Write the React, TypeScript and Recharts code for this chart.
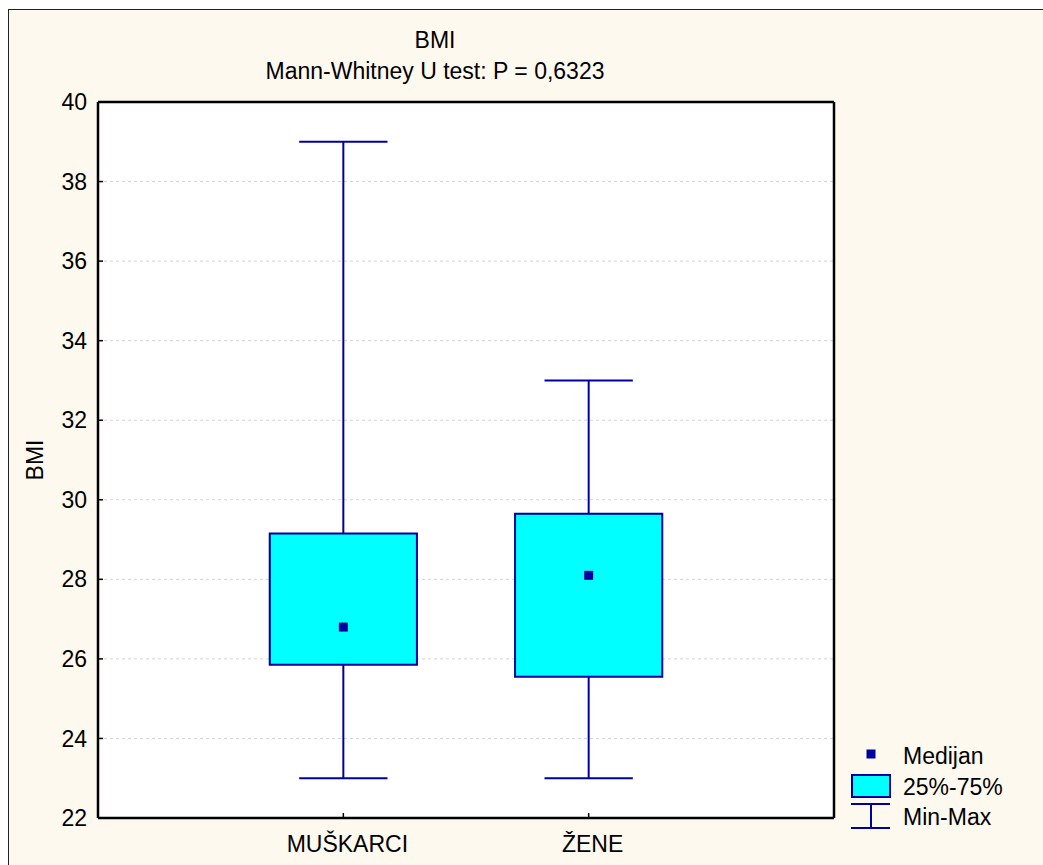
import { ComposedChart, XAxis, YAxis, CartesianGrid, ReferenceArea, ReferenceLine, Scatter } from "recharts";

// ============[ DATA ]============
const groups = ["MUŠKARCI", "ŽENE"];
const groupPos = [1, 2];
const minValues = [23, 23];
const q1Values = [25.85, 25.55];
const medianValues = [26.8, 28.1];
const q3Values = [29.15, 29.65];
const maxValues = [39, 33];
const yTicks = [22, 24, 26, 28, 30, 32, 34, 36, 38, 40];
const legendLabels = ["Medijan", "25%-75%", "Min-Max"];

const NAVY = "#0000a0";
const CYAN = "#00ffff";
const CREAM = "#fdf9ee";
const FONT = "'Liberation Sans', Arial, sans-serif";
const FS = 23;
const BOX_HALF = 0.3;
const CAP_HALF = 0.18;

const medianData = groups.map((g, i) => ({ name: g, x: groupPos[i], y: medianValues[i] }));

export default function App() {
  return (
    <div style={{ position: "fixed", left: 0, top: 0, width: 1043, height: 865, background: "#fff", overflow: "hidden", fontFamily: FONT }}>
      <div
        style={{
          position: "absolute",
          left: 8,
          top: 9,
          width: 1100,
          height: 900,
          background: CREAM,
          border: "1.5px solid #222",
        }}
      />

      {/* title */}
      <div style={{ position: "absolute", left: 0, top: 25, width: 870, textAlign: "center", fontSize: FS, lineHeight: "31px", color: "#000" }}>
        <div>BMI</div>
        <div>Mann-Whitney U test: P = 0,6323</div>
      </div>

      <div style={{ position: "absolute", left: 0, top: 0 }}>
        <ComposedChart width={1043} height={865} margin={{ top: 101, right: 208, bottom: 7, left: 38 }}>
          <CartesianGrid vertical={false} fill="#fff" stroke="#d4d4d4" strokeDasharray="3 3" />
          <XAxis
            type="number"
            dataKey="x"
            domain={[0, 3]}
            ticks={groupPos}
            tickFormatter={(v: number) => groups[groupPos.indexOf(v)] ?? ""}
            height={40}
            tickSize={-5}
            tickMargin={23}
            axisLine={{ stroke: "#000", strokeWidth: 2.5 }}
            tickLine={{ stroke: "#000", strokeWidth: 1.5 }}
            tick={{ fill: "#000", fontSize: FS, fontFamily: FONT, dx: 4 }}
            allowDataOverflow
          />
          <XAxis
            xAxisId="top"
            orientation="top"
            type="number"
            domain={[0, 3]}
            ticks={groupPos}
            tickFormatter={() => ""}
            height={1}
            tickSize={-5}
            axisLine={{ stroke: "#000", strokeWidth: 2.5 }}
            tickLine={{ stroke: "#000", strokeWidth: 1.5 }}
          />
          <YAxis
            type="number"
            domain={[22, 40]}
            ticks={yTicks}
            width={60}
            tickSize={-5}
            tickMargin={16}
            axisLine={{ stroke: "#000", strokeWidth: 2.5 }}
            tickLine={{ stroke: "#000", strokeWidth: 1.5 }}
            tick={{ fill: "#000", fontSize: FS, fontFamily: FONT }}
            label={{
              position: "left",
              content: ({ viewBox }: any) => {
                const cx = viewBox.x - 3;
                const cy = viewBox.y + viewBox.height / 2;
                return (
                  <text x={cx} y={cy} transform={`rotate(-90 ${cx} ${cy})`} textAnchor="middle" dominantBaseline="central" fontSize={FS} fontFamily={FONT} fill="#000">
                    BMI
                  </text>
                );
              },
            }}
          />
          <YAxis
            yAxisId="right"
            orientation="right"
            type="number"
            domain={[22, 40]}
            ticks={yTicks}
            tickFormatter={() => ""}
            width={1}
            tickSize={-5}
            axisLine={{ stroke: "#000", strokeWidth: 2.5 }}
            tickLine={{ stroke: "#000", strokeWidth: 1.5 }}
          />

          {/* whiskers */}
          {groupPos.map((x, i) => (
            <ReferenceLine key={`wu${i}`} segment={[{ x, y: q3Values[i] }, { x, y: maxValues[i] }]} stroke={NAVY} strokeWidth={2} />
          ))}
          {groupPos.map((x, i) => (
            <ReferenceLine key={`wl${i}`} segment={[{ x, y: minValues[i] }, { x, y: q1Values[i] }]} stroke={NAVY} strokeWidth={2} />
          ))}
          {groupPos.map((x, i) => (
            <ReferenceLine key={`cu${i}`} segment={[{ x: x - CAP_HALF, y: maxValues[i] }, { x: x + CAP_HALF, y: maxValues[i] }]} stroke={NAVY} strokeWidth={2} />
          ))}
          {groupPos.map((x, i) => (
            <ReferenceLine key={`cl${i}`} segment={[{ x: x - CAP_HALF, y: minValues[i] }, { x: x + CAP_HALF, y: minValues[i] }]} stroke={NAVY} strokeWidth={2} />
          ))}

          {/* boxes */}
          {groupPos.map((x, i) => (
            <ReferenceArea
              key={`box${i}`}
              x1={x - BOX_HALF}
              x2={x + BOX_HALF}
              y1={q1Values[i]}
              y2={q3Values[i]}
              fill={CYAN}
              fillOpacity={1}
              stroke={NAVY}
              strokeWidth={2}
            />
          ))}

          <Scatter
            data={medianData}
            dataKey="y"
            isAnimationActive={false}
            shape={(p: any) => <rect x={p.cx - 4.5} y={p.cy - 4.5} width={9} height={9} fill={NAVY} />}
          />
        </ComposedChart>
      </div>

      {/* legend */}
      <svg style={{ position: "absolute", left: 840, top: 740 }} width={200} height={100}>
        <rect x={26.5} y={9.5} width={9} height={9} fill={NAVY} />
        <rect x={12} y={35} width={38} height={22} fill={CYAN} stroke={NAVY} strokeWidth={2} />
        <line x1={11} x2={50} y1={64} y2={64} stroke={NAVY} strokeWidth={2} />
        <line x1={11} x2={50} y1={88} y2={88} stroke={NAVY} strokeWidth={2} />
        <line x1={31} x2={31} y1={64} y2={88} stroke={NAVY} strokeWidth={2} />
        {legendLabels.map((t, i) => (
          <text key={t} x={63} y={24 + i * 30.5} fontSize={FS} fontFamily={FONT} fill="#000">
            {t}
          </text>
        ))}
      </svg>
    </div>
  );
}
